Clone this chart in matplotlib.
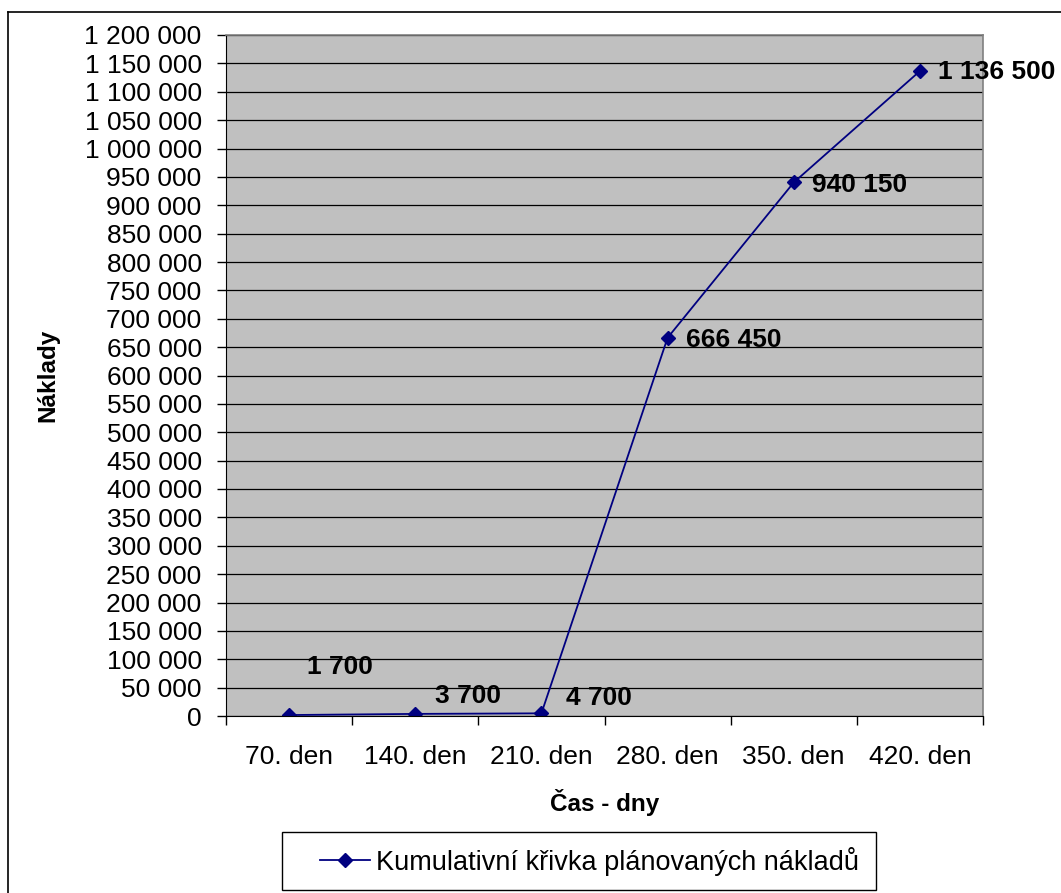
"""Kumulativni krivka planovanych nakladu projektu."""
import matplotlib.pyplot as plt
from matplotlib.lines import Line2D
from matplotlib.patches import Rectangle
from matplotlib.ticker import FuncFormatter, MultipleLocator

plt.rcParams["font.family"] = ["Liberation Sans", "DejaVu Sans"]

dny = ["70. den", "140. den", "210. den", "280. den", "350. den", "420. den"]
naklady = [1700, 3700, 4700, 666450, 940150, 1136500]

# posun popisku od bodu (v pixelech)
posuny = [(18, 48), (20, 18), (25, 15), (18, -2), (18, -3), (18, -1)]

MODRA = "#000080"
W, H = 1061, 893


def mezery(x, _pos):
    return f"{int(x):,}".replace(",", " ")


fig = plt.figure(figsize=(W / 100, H / 100), dpi=100)

# ramecek kolem celeho grafu (jen levy a horni okraj je videt)
fig.add_artist(Line2D([8 / W, 8 / W], [0, 1 - 12 / H],
                      transform=fig.transFigure, color="black", lw=1.2))
fig.add_artist(Line2D([8 / W, 1], [1 - 12 / H, 1 - 12 / H],
                      transform=fig.transFigure, color="black", lw=1.2))

ax = fig.add_axes([226 / W, 1 - 716 / H, (983 - 226) / W, (716 - 35) / H])
ax.set_facecolor("#c0c0c0")

x = list(range(len(dny)))
ax.plot(x, naklady, color=MODRA, lw=1.3, marker="D", markersize=7.5,
        label="Kumulativní křivka plánovaných nákladů")

for xi, yi, (dx, dy) in zip(x, naklady, posuny):
    ax.annotate(mezery(yi, None), (xi, yi), xytext=(dx, dy),
                textcoords="offset pixels", ha="left", va="center",
                fontsize=19, fontweight="bold")

ax.set_xlim(-0.5, len(dny) - 0.5)
ax.set_ylim(0, 1200000)
ax.yaxis.set_major_locator(MultipleLocator(50000))
ax.yaxis.set_major_formatter(FuncFormatter(mezery))
ax.grid(axis="y", color="black", lw=0.9)
ax.set_axisbelow(True)

# kategorie uprostred, znacky mezi nimi
ax.set_xticks([i - 0.5 for i in range(len(dny) + 1)])
ax.set_xticklabels([])
ax.set_xticks(x, minor=True)
ax.set_xticklabels(dny, minor=True)
ax.tick_params(axis="x", which="major", length=6.5, width=1, direction="out")
ax.tick_params(axis="x", which="minor", length=0, pad=21, labelsize=19)
ax.tick_params(axis="y", length=6.5, width=1, direction="out", labelsize=19, pad=11)

for s in ("top", "right"):
    ax.spines[s].set_color("#808080")
    ax.spines[s].set_linewidth(1.2)
ax.spines["left"].set_color("black")
ax.spines["bottom"].set_color("black")

ax.set_xlabel("Čas - dny", fontsize=17.5, fontweight="bold")
ax.xaxis.set_label_coords(0.5, -(789 - 716) / 681)
ax.set_ylabel("Náklady", fontsize=17.5, fontweight="bold", va="center")
ax.yaxis.set_label_coords(-(226 - 48) / 757, 0.5)

# legenda bez vlastniho ramu, ramecek se kresli zvlast
fig.legend(loc="center left", bbox_to_anchor=(320 / W, 1 - 861 / H),
           fontsize=19.5, frameon=False, handlelength=1.85,
           borderpad=0, borderaxespad=0, handletextpad=0.22)
fig.add_artist(Rectangle((282 / W, 1 - 890 / H), (876 - 282) / W, 58 / H,
                         transform=fig.transFigure, fill=False,
                         edgecolor="black", lw=1))

fig.savefig("out.png", dpi=100)
